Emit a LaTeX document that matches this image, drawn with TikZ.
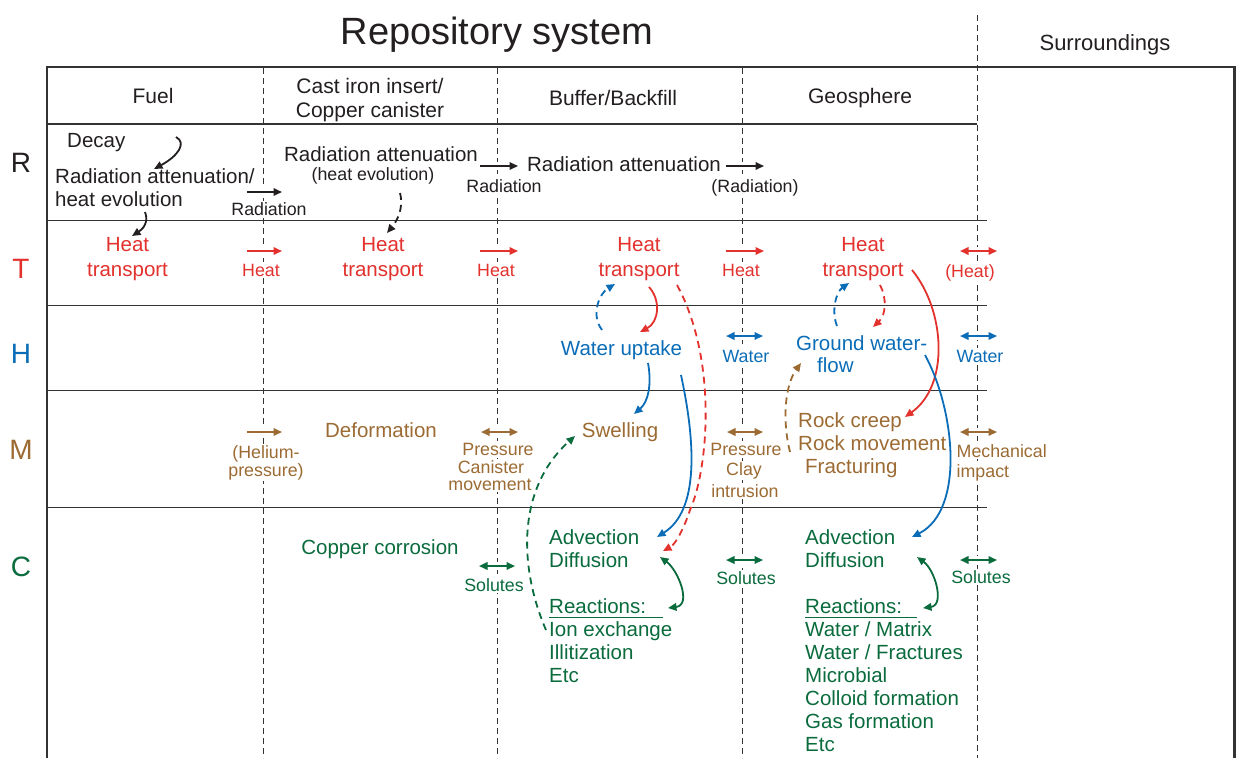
\documentclass[tikz,border=0pt]{standalone}
\usepackage{fontspec}
\setmainfont{Liberation Sans}
\usetikzlibrary{arrows.meta}
\definecolor{cK}{HTML}{231F20}
\definecolor{cT}{HTML}{E3312D}
\definecolor{cH}{HTML}{0B6DB7}
\definecolor{cM}{HTML}{9C6B33}
\definecolor{cC}{HTML}{0A6B3D}
\definecolor{cL}{HTML}{333333}
\tikzset{
  tx/.style={anchor=base, inner sep=0pt, font=\fontsize{20.5}{23}\selectfont},
  txl/.style={tx, anchor=base west},
  sm/.style={anchor=base, inner sep=1.5pt, fill=white, font=\fontsize{17.8}{19}\selectfont},
  sml/.style={sm, anchor=base west},
  hd/.style={anchor=base, inner sep=0pt, font=\fontsize{21}{23}\selectfont},
  rowlab/.style={anchor=base, inner sep=0pt, font=\fontsize{28}{30}\selectfont},
  tip/.style={-{Triangle[length=8.5pt,width=7.5pt]}},
  arr/.style={line width=2pt, tip, preaction={draw=white, line width=8pt, -}},
  darr/.style={line width=2pt, {Triangle[length=8.5pt,width=7.5pt]}-{Triangle[length=8.5pt,width=7.5pt]}, preaction={draw=white, line width=8pt, -}},
  curve/.style={line width=1.8pt, tip},
  dcurve/.style={curve, dash pattern=on 7pt off 5pt},
  dbl/.style={line width=1.8pt, {Triangle[length=8.5pt,width=7.5pt]}-{Triangle[length=8.5pt,width=7.5pt]}},
  frame/.style={line width=2.5pt, draw=cL},
  sep/.style={line width=1pt, draw=cL},
  vdash/.style={line width=1pt, draw=cL, dash pattern=on 6pt off 4pt},
}
\begin{document}
\begin{tikzpicture}[x=1pt,y=-1pt]
\useasboundingbox (0,0) rectangle (1236,758);
\fill[white] (0,0) rectangle (1236,758);

% frame and grid
\draw[frame] (47,758) -- (47,67) -- (1234.5,67) -- (1234.5,758);
\draw[frame] (47,124) -- (977,124);
\foreach \y in {220,305,390,507} \draw[sep] (47,\y) -- (987,\y);
\foreach \x in {263,497,742} \draw[vdash] (\x,68) -- (\x,758);
\draw[vdash] (977,15) -- (977,758);

% titles
\node[anchor=base, inner sep=0pt, font=\fontsize{38}{40}\selectfont, text=cK] (title) at (497,44) {Repository system};
\node[hd, font=\fontsize{22}{24}\selectfont, text=cK] (sur) at (1105,50) {Surroundings};
\node[hd, text=cK] (hfuel) at (153,103) {Fuel};
\node[hd, text=cK] (hcast) at (370,93) {Cast iron insert/};
\node[hd, text=cK] (hcopp) at (370,117) {Copper canister};
\node[hd, text=cK] (hbuf) at (613,105) {Buffer/Backfill};
\node[hd, text=cK] (hgeo) at (860,103) {Geosphere};

% row labels
\node[rowlab, text=cK] (lR) at (21,172) {R};
\node[rowlab, text=cT] (lT) at (21,278) {T};
\node[rowlab, text=cH] (lH) at (21,363) {H};
\node[rowlab, text=cM] (lM) at (21,459) {M};
\node[rowlab, text=cC] (lC) at (21,576) {C};

% ---------- R row
\begin{scope}[text=cK]
\node[txl] (decay) at (67,147) {Decay};
\node[txl] (ra1) at (55,183) {Radiation attenuation/};
\node[txl] (ra1b) at (55,206) {heat evolution};
\draw[arr, cK] (247,192) -- (282,192);
\node[sm] (rl1) at (269,215) {Radiation};
\node[tx] (ra2) at (381,161) {Radiation attenuation};
\node[sm] (ra2b) at (373,180) {(heat evolution)};
\draw[arr, cK] (480,166) -- (518,166);
\node[sm] (rl2) at (504,192) {Radiation};
\node[tx] (ra3) at (624,171) {Radiation attenuation};
\draw[arr, cK] (726,166) -- (764,166);
\node[sm] (rl3) at (755,192) {(Radiation)};
\end{scope}

% ---------- T row
\begin{scope}[text=cT]
\foreach \x/\n in {127.5/1,383/2,639/3,863/4}{
  \node[tx] (ht\n) at (\x,251) {Heat};
  \node[tx] (tr\n) at (\x,276) {transport};
}
\draw[arr, cT] (247,251) -- (282,251);
\node[sm] (th1) at (261,276) {Heat};
\draw[arr, cT] (480,251) -- (518,251);
\node[sm] (th2) at (496,276) {Heat};
\draw[arr, cT] (726,251) -- (764,251);
\node[sm] (th3) at (741,276) {Heat};
\draw[darr, cT] (960,251) -- (997,251);
\node[sm] (th4) at (970,277) {(Heat)};
\end{scope}

% ---------- H row
\begin{scope}[text=cH]
\node[tx] (wu) at (621.5,355) {Water uptake};
\draw[darr, cH] (726,336) -- (763,336);
\node[sm] (hw1) at (746,362) {Water};
\node[txl] (gw) at (796,350) {Ground water-};
\node[txl] (gwf) at (817,372) {flow};
\draw[darr, cH] (960,336) -- (997,336);
\node[sm] (hw2) at (980,362) {Water};
\end{scope}

% ---------- M row
\begin{scope}[text=cM]
\draw[arr, cM] (247,432) -- (282,432);
\node[sm] (he1) at (266,458) {(Helium-};
\node[sm] (he2) at (266,476) {pressure)};
\node[tx] (def) at (381,437) {Deformation};
\draw[darr, cM] (481,432) -- (518,432);
\node[sm] (pc1) at (498,455) {Pressure};
\node[sm] (pc2) at (491,473) {Canister};
\node[sm] (pc3) at (490,490) {movement};
\node[tx] (sw) at (620,437) {Swelling};
\draw[darr, cM] (727,432) -- (763,432);
\node[sm] (pi1) at (746,455) {Pressure};
\node[sm] (pi2) at (744,475) {Clay};
\node[sm] (pi3) at (745,497) {intrusion};
\node[txl] (rc1) at (798,427) {Rock creep};
\node[txl] (rc2) at (798,450) {Rock movement};
\node[txl] (rc3) at (805,473) {Fracturing};
\draw[darr, cM] (960,432) -- (997,432);
\node[sml] (mi1) at (955,457) {Mechanical};
\node[sml] (mi2) at (955,477) {impact};
\end{scope}

% ---------- C row
\begin{scope}[text=cC]
\node[tx] (cc) at (380,554) {Copper corrosion};
\draw[darr, cC] (479,566) -- (515,566);
\node[sm] (so1) at (494,591) {Solutes};
\node[txl] (ad1) at (549,544) {Advection};
\node[txl] (di1) at (549,567) {Diffusion};
\node[txl] (re1) at (549,613) {Reactions:};
\node[txl] (ie1) at (549,636) {Ion exchange};
\node[txl] (il1) at (549,659) {Illitization};
\node[txl] (et1) at (549,682) {Etc};
\draw[darr, cC] (726,560) -- (763,560);
\node[sm] (so2) at (746,584) {Solutes};
\node[txl] (ad2) at (805,544) {Advection};
\node[txl] (di2) at (805,567) {Diffusion};
\node[txl] (re2) at (805,613) {Reactions:};
\node[txl] (wm2) at (805,636) {Water / Matrix};
\node[txl] (wf2) at (805,659) {Water / Fractures};
\node[txl] (mb2) at (805,682) {Microbial};
\node[txl] (cf2) at (805,705) {Colloid formation};
\node[txl] (gf2) at (805,728) {Gas formation};
\node[txl] (et2) at (805,751) {Etc};
\draw[darr, cC] (960,560) -- (997,560);
\node[sm] (so3) at (981,583) {Solutes};
\end{scope}
\draw[cC, line width=1.2pt] (549,617.5) -- (663,617.5);
\draw[cC, line width=1.2pt] (805,617.5) -- (917,617.5);

% ---------- curved connectors
\draw[curve, cK] (176,137) .. controls (187,143) and (178,156) .. (154,169);
\draw[curve, cK] (145,212) .. controls (149,222) and (143,229) .. (132,236);
\draw[dcurve, cK] (400,193) .. controls (404,208) and (397,221) .. (387,233);

\draw[dcurve, cH] (602,330) .. controls (590,314) and (600,293) .. (615,284);
\draw[curve, cT] (649,287) .. controls (661,300) and (659,322) .. (640,332);
\draw[dcurve, cT] (677,285) .. controls (718,360) and (708,470) .. (690,510) .. controls (684,528) and (676,544) .. (663,551);
\draw[curve, cH] (648,363) .. controls (652,385) and (648,402) .. (634,414);
\draw[curve, cH] (681,375) .. controls (695,440) and (700,510) .. (657,537);
\draw[dcurve, cC] (546,630) .. controls (520,570) and (515,490) .. (575,436);
\draw[dbl, cC] (660,557) .. controls (678,570) and (692,605) .. (668,608);

\draw[dcurve, cH] (837,326) .. controls (831,311) and (836,292) .. (849,283);
\draw[dcurve, cT] (880,285) .. controls (887,298) and (886,315) .. (873,327);
\draw[curve, cT] (912,270) .. controls (945,310) and (950,385) .. (905,417);
\draw[curve, cH] (925,355) .. controls (955,410) and (965,510) .. (912,537);
\draw[dcurve, cM] (790,452) .. controls (782,420) and (785,385) .. (801,363);
\draw[dbl, cC] (917,557) .. controls (935,570) and (945,605) .. (923,608);
\end{tikzpicture}
\end{document}
